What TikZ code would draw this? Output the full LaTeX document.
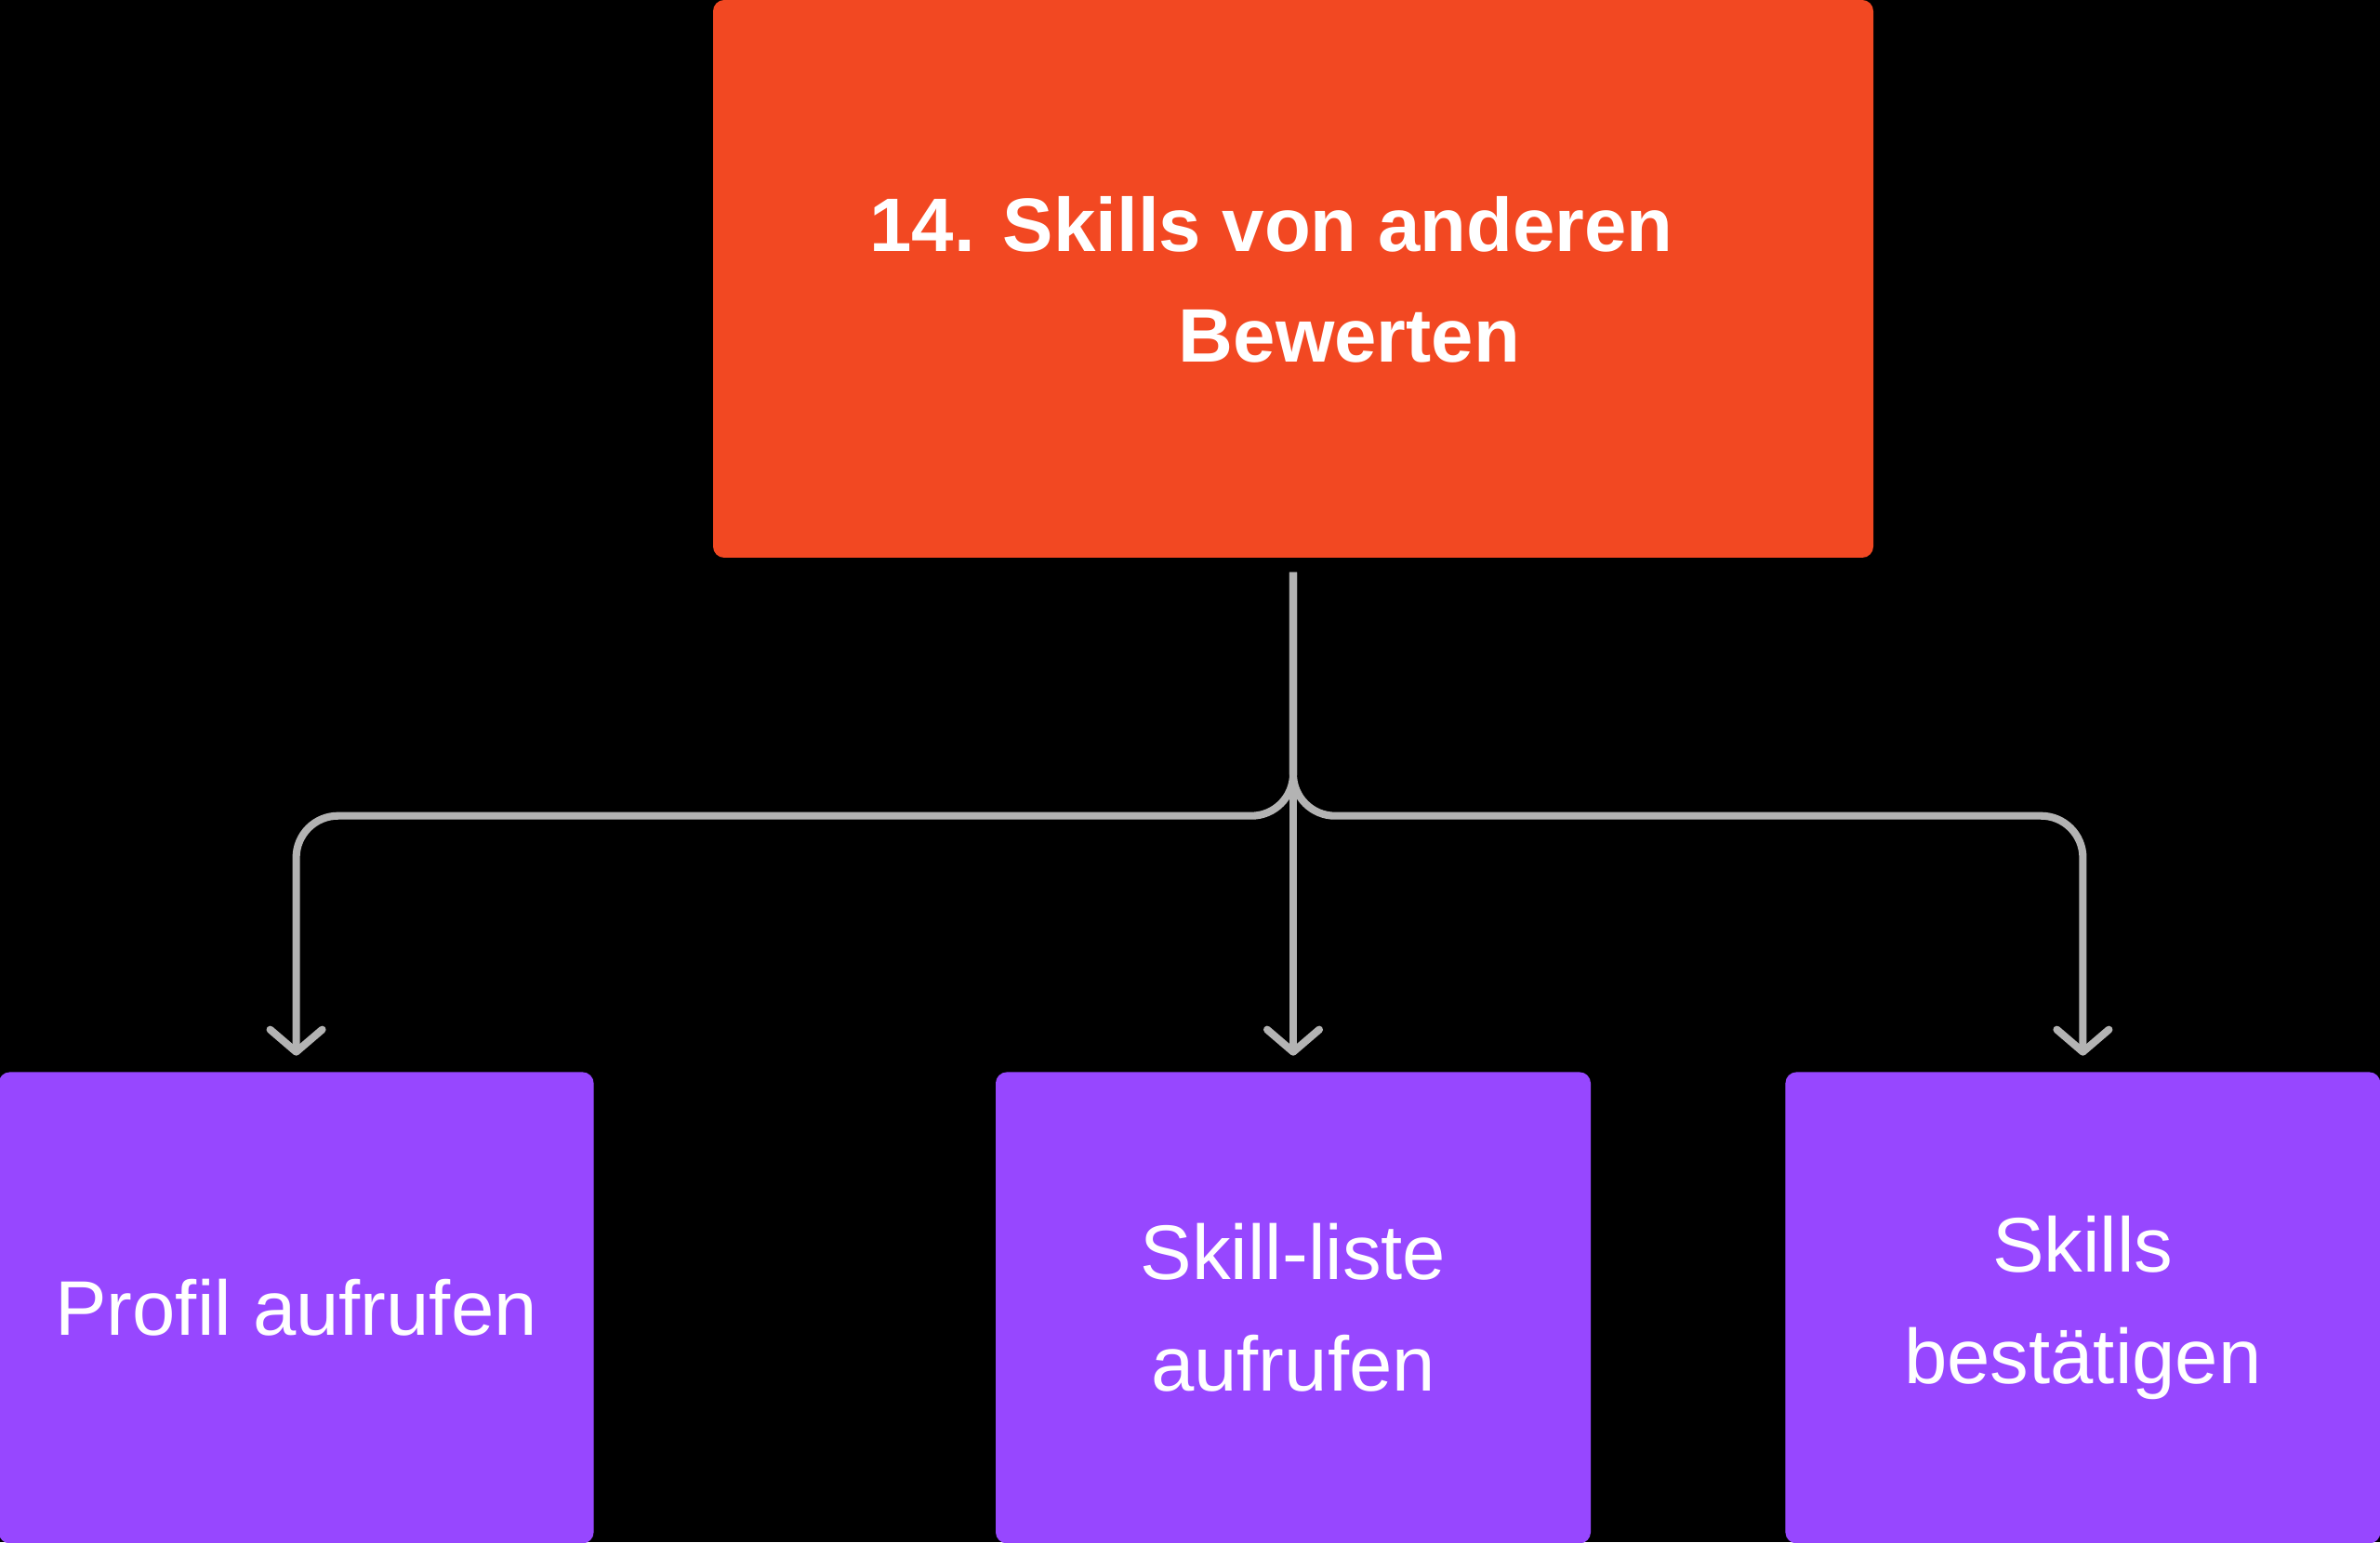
\documentclass[tikz,border=0pt]{standalone}
\usepackage{fontspec}
\setmainfont{Liberation Sans}
\usepackage{tikz}
\usetikzlibrary{positioning,arrows.meta}

\definecolor{orangebox}{HTML}{F24822}
\definecolor{purplebox}{HTML}{9747FF}
\definecolor{linegray}{HTML}{B3B3B3}

\tikzset{
  task/.style={fill=purplebox, rounded corners=0.12cm, minimum width=6.4cm,
    minimum height=5.07cm, text=white, align=center, inner sep=0pt,
    font=\fontsize{23.7}{34.2}\selectfont},
  goal/.style={fill=orangebox, rounded corners=0.12cm, minimum width=12.48cm,
    minimum height=6cm, inner sep=0pt},
  goaltext/.style={text=white, inner sep=0pt, anchor=base,
    font=\fontsize{23.2}{34}\selectfont\bfseries},
  conn/.style={draw=linegray, line width=2.3pt, rounded corners=0.45cm,
    -{Straight Barb[length=0.24cm,width=0.56cm,round]},
    shorten <=0.15cm, shorten >=0.17cm}
}

\begin{document}
\begin{tikzpicture}
	\fill[black] (0,0) rectangle (25.6,16.59);
	\useasboundingbox (0,0) rectangle (25.6,16.59);

	\node[goal] (top) at (13.91,13.59) {};
	\node[goaltext] (title1) at ([xshift=-0.235cm,yshift=0.29cm]top.center) {14. Skills von anderen};
	\node[goaltext] (title2) at ([xshift=0.605cm,yshift=-0.9cm]top.center) {Bewerten};

	\node[task] (mid) [below=5.52cm of top] {Skill-liste\\aufrufen};
	\node[task] (left) [left=4.31cm of mid] {Profil aufrufen};
	\node[task] (right) [right=2.08cm of mid] {Skills\\bestätigen};

	\coordinate (fork) at ([yshift=-2.77cm]top.south);
	\draw[conn] (top.south) -- (mid.north);
	\draw[conn] (top.south) -- (fork) -| (left.north);
	\draw[conn] (top.south) -- (fork) -| (right.north);
\end{tikzpicture}
\end{document}
